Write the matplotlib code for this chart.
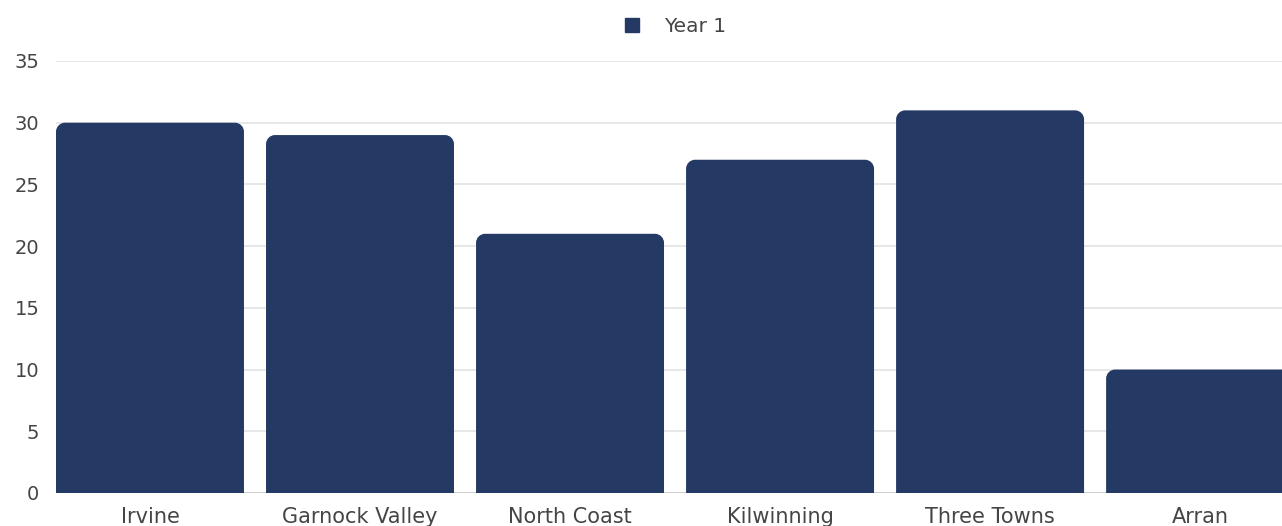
import numpy as np
import matplotlib.pyplot as plt
from matplotlib.path import Path
from matplotlib.patches import PathPatch
from matplotlib.lines import Line2D

plt.rcParams['font.family'] = ['DejaVu Sans']

# Данные
areas = ['Irvine', 'Garnock Valley', 'North Coast', 'Kilwinning', 'Three Towns', 'Arran']
year1 = [30, 29, 21, 27, 31, 10]
yticks = [0, 5, 10, 15, 20, 25, 30, 35]

bar_color = '#243a64'
text_color = '#454545'

fig = plt.figure(figsize=(12.82, 5.26), dpi=100)
ax = fig.add_axes([56 / 1282, 33 / 526, 1 - 56 / 1282, 432 / 526])

x = np.arange(len(areas))
bars = ax.bar(x, year1, width=0.895, color=bar_color)
ax.set_xlim(-0.4475, 5.39)
ax.set_ylim(0, 35)

# Скругляем верхние углы столбцов
fig.canvas.draw()
p0 = ax.transData.transform((0, 0))
p1 = ax.transData.transform((1, 1))
rx = 9 / (p1[0] - p0[0])
ry = 9 / (p1[1] - p0[1])
k = 0.5523
for b in bars:
    x0, w, h = b.get_x(), b.get_width(), b.get_height()
    x1 = x0 + w
    verts = [
        (x0, 0), (x0, h - ry),
        (x0, h - ry + k * ry), (x0 + rx - k * rx, h), (x0 + rx, h),
        (x1 - rx, h),
        (x1 - rx + k * rx, h), (x1, h - ry + k * ry), (x1, h - ry),
        (x1, 0), (x0, 0),
    ]
    codes = [Path.MOVETO, Path.LINETO,
             Path.CURVE4, Path.CURVE4, Path.CURVE4,
             Path.LINETO,
             Path.CURVE4, Path.CURVE4, Path.CURVE4,
             Path.LINETO, Path.CLOSEPOLY]
    ax.add_patch(PathPatch(Path(verts, codes), facecolor=bar_color,
                           edgecolor='none', zorder=3))
    b.set_visible(False)

ax.set_yticks(yticks)
ax.set_xticks(x)
ax.set_xticklabels(areas)
ax.grid(axis='y', color='#e3e3e3', linewidth=1.2, zorder=0)
ax.set_axisbelow(True)
ax.axhline(0, color='#cccccc', linewidth=1.2, zorder=2)
for s in ax.spines.values():
    s.set_visible(False)
ax.tick_params(axis='both', length=0, colors=text_color)
ax.tick_params(axis='y', labelsize=14, pad=12)
ax.tick_params(axis='x', labelsize=15, pad=10)

handle = Line2D([], [], marker='s', linestyle='none', markersize=10,
                color=bar_color)
ax.legend([handle], ['Year 1'], loc='lower center', bbox_to_anchor=(0.5, 1.016),
          frameon=False, fontsize=14.5, labelcolor=text_color, handletextpad=0.6)

fig.savefig('out.png', dpi=100)
